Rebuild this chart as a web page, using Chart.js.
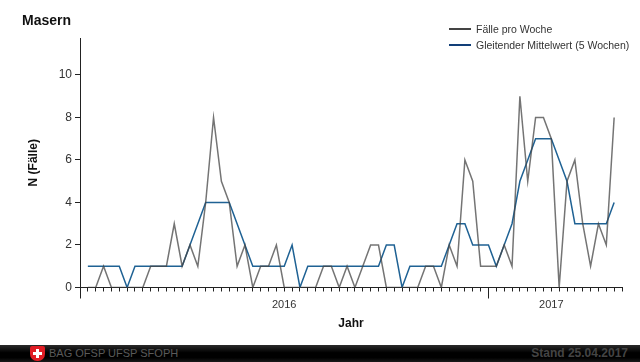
<!DOCTYPE html>
<html>
<head>
<meta charset="utf-8">
<script src="https://cdn.jsdelivr.net/npm/chart.js@4"></script>
<style>
html, body { margin: 0; padding: 0; background: #fff; }
#wrap { position: relative; width: 640px; height: 362px; overflow: hidden; font-family: "Liberation Sans", Arial, sans-serif; }
#title { position: absolute; left: 22px; top: 12px; font-size: 14px; font-weight: bold; color: #111; }
#legend { position: absolute; left: 449px; top: 21px; font-size: 10.5px; color: #333; line-height: 16px; }
#legend div { white-space: nowrap; }
#legend i { display: inline-block; width: 22px; height: 2px; margin-right: 5px; vertical-align: 3px; }
#footer { position: absolute; left: 0; top: 345px; width: 640px; height: 17px; background: linear-gradient(#2a2a2a, #000 45%, #000 75%, #1a1a1a); color: #5a5a5a; font-size: 11px; line-height: 17px; }
#footer .org { position: absolute; left: 49px; top: 0; }
#footer .date { position: absolute; right: 12px; top: 0; font-size: 12px; font-weight: bold; color: #444; }
#shield { position: absolute; left: 30px; top: 1px; width: 15px; height: 15px; background: #e01c24; border-radius: 2px 2px 7px 7px; }
#shield:before { content: ""; position: absolute; left: 6px; top: 3px; width: 3px; height: 9px; background: #fff; }
#shield:after { content: ""; position: absolute; left: 3px; top: 6px; width: 9px; height: 3px; background: #fff; }
</style>
</head>
<body>
<div id="wrap">
    <canvas id="chart" width="640" height="362"></canvas>
    <div id="title">Masern</div>
    <div id="legend"></div>
    <div id="footer">
        <span id="shield"></span>
        <span class="org">BAG OFSP UFSP SFOPH</span>
        <span class="date">Stand 25.04.2017</span>
    </div>
</div>
<script>
// Werte, eine Zahl pro Woche ab Woche 1/2016
const casesPerWeek = [
    0, 0, 1, 0, 0, 0, 0, 0, 1, 1, 1, 3, 1, 2, 1, 4, 8, 5, 4, 1, 2, 0, 1, 1, 2, 0,
    0, 0, 0, 0, 1, 1, 0, 1, 0, 1, 2, 2, 0, 0, 0, 0, 0, 1, 1, 0, 2, 1, 6, 5, 1, 1,
    1, 2, 1, 9, 5, 8, 8, 7, 0, 5, 6, 3, 1, 3, 2, 8
];
const movingAverage = [
    1, 1, 1, 1, 1, 0, 1, 1, 1, 1, 1, 1, 1, 2, 3, 4, 4, 4, 4, 3, 2, 1, 1, 1, 1, 1,
    2, 0, 1, 1, 1, 1, 1, 1, 1, 1, 1, 1, 2, 2, 0, 1, 1, 1, 1, 1, 2, 3, 3, 2, 2, 2,
    1, 2, 3, 5, 6, 7, 7, 7, 6, 5, 3, 3, 3, 3, 3, 4
];
const yTicks = [0, 2, 4, 6, 8, 10];
const yearLabels = ['2016', '2017'];
const yearBoundaries = [-1, 51, 67];
const seriesNames = ['Fälle pro Woche', 'Gleitender Mittelwert (5 Wochen)'];

function toPoints(values) {
    return values.map((v, i) => ({ x: i, y: v }));
}

// Jahres-Striche und Jahreszahlen unter der x-Achse
const yearAxisPlugin = {
    id: 'yearAxis',
    afterDraw(chart) {
        const ctx = chart.ctx;
        const xScale = chart.scales.x;
        const base = chart.chartArea.bottom;
        ctx.save();
        ctx.strokeStyle = '#222';
        ctx.lineWidth = 1;
        [yearBoundaries[0], yearBoundaries[1]].forEach(b => {
            const px = Math.round(xScale.getPixelForValue(b)) + 0.5;
            ctx.beginPath();
            ctx.moveTo(px, base);
            ctx.lineTo(px, base + 11);
            ctx.stroke();
        });
        ctx.fillStyle = '#333';
        ctx.font = '11px "Liberation Sans", Arial, sans-serif';
        ctx.textAlign = 'center';
        ctx.textBaseline = 'middle';
        yearLabels.forEach((label, i) => {
            const mid = (yearBoundaries[i] + yearBoundaries[i + 1]) / 2;
            ctx.fillText(label, xScale.getPixelForValue(mid), base + 17);
        });
        ctx.restore();
    }
};

const chart = new Chart(document.getElementById('chart'), {
    type: 'line',
    data: {
        datasets: [{
            label: seriesNames[0],
            data: toPoints(casesPerWeek),
            borderColor: 'rgba(70, 70, 70, 0.75)',
            borderWidth: 1.5,
            pointRadius: 0,
            tension: 0
        }, {
            label: seriesNames[1],
            data: toPoints(movingAverage),
            borderColor: '#1f6294',
            borderWidth: 1.5,
            pointRadius: 0,
            tension: 0
        }]
    },
    options: {
        responsive: false,
        animation: false,
        layout: { padding: { left: 0, top: 38, right: 18, bottom: 0 } },
        plugins: { legend: { display: false }, tooltip: { enabled: false } },
        scales: {
            x: {
                type: 'linear',
                min: -1,
                max: 68,
                afterFit(scale) { scale.height = 74.5; },
                border: { color: '#222', width: 1 },
                grid: { drawOnChartArea: false, color: '#222', tickLength: 4 },
                ticks: { display: false, stepSize: 1, autoSkip: false, maxTicksLimit: 100 },
                title: {
                    display: true,
                    text: 'Jahr',
                    color: '#111',
                    font: { size: 12, weight: 'bold', family: '"Liberation Sans", Arial, sans-serif' },
                    padding: { top: 0, bottom: 31 }
                }
            },
            y: {
                min: 0,
                max: 11.74,
                afterFit(scale) { scale.width = 80; },
                afterBuildTicks(scale) { scale.ticks = yTicks.map(v => ({ value: v })); },
                border: { color: '#222', width: 1 },
                grid: { drawOnChartArea: false, color: '#222', tickLength: 5 },
                ticks: {
                    color: '#333',
                    padding: 3,
                    font: { size: 12, family: '"Liberation Sans", Arial, sans-serif' }
                },
                title: {
                    display: true,
                    text: 'N (Fälle)',
                    color: '#111',
                    font: { size: 12, weight: 'bold', family: '"Liberation Sans", Arial, sans-serif' },
                    padding: { top: 26, bottom: 0 }
                }
            }
        }
    },
    plugins: [yearAxisPlugin]
});

// Legende neben dem Diagramm
const legendColors = ['#444', '#123f78'];
document.getElementById('legend').innerHTML = chart.data.datasets.map((ds, i) =>
    `<div><i style="background:${legendColors[i]}"></i>${ds.label}</div>`
).join('');
</script>
</body>
</html>
